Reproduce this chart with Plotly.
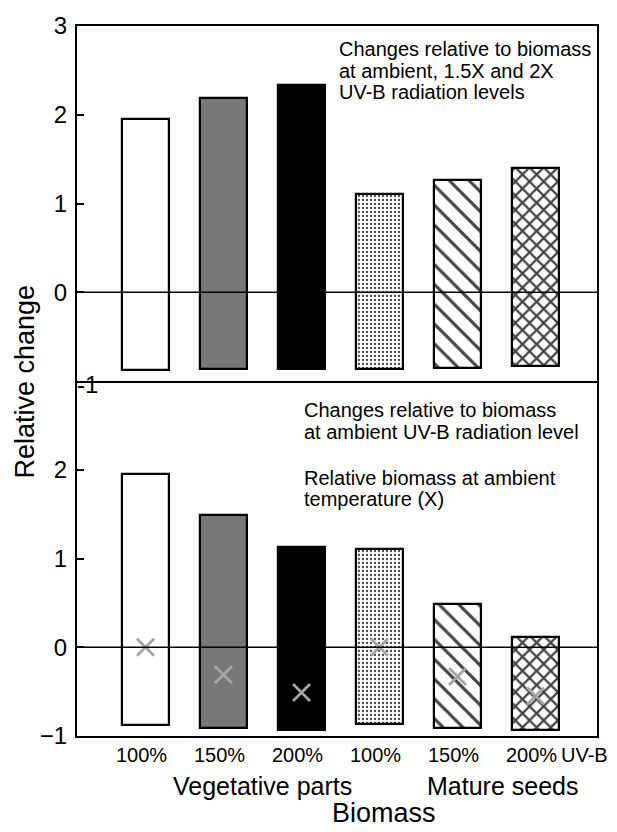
import plotly.graph_objects as go
from plotly.subplots import make_subplots

# ---- data ----
categories = ["100%", "150%", "200%", "100%", "150%", "200%"]
positions = [0, 1, 2, 3, 4, 5]
top_values = [1.95, 2.19, 2.33, 1.11, 1.27, 1.40]
top_bases = [-0.88, -0.87, -0.86, -0.865, -0.85, -0.83]
bottom_values = [1.95, 1.49, 1.13, 1.11, 0.49, 0.11]
bottom_bases = [-0.88, -0.91, -0.935, -0.87, -0.91, -0.93]
ambient_temp = [0.0, -0.31, -0.51, 0.0, -0.33, -0.55]
top_yticks = [0, 1, 2, 3]
bottom_yticks = [-1, 0, 1, 2]

FONT = "Liberation Sans, Arial, sans-serif"
fill_colors = ["white", "#777777", "black", "white", "white", "white"]
pat_shapes = ["", "", "", ".", "\\", "x"]
pat_fg = ["black", "black", "black", "#6a6a6a", "black", "black"]
pat_bg = ["white", "#777777", "black", "white", "white", "white"]
pat_size = [8, 8, 8, 4, 14, 10]
pat_sol = [0.3, 0.3, 0.3, 0.25, 0.22, 0.4]

fig = make_subplots(rows=2, cols=1, shared_xaxes=True, vertical_spacing=0)


def bar_trace(vals, bases):
    heights = [v - b for v, b in zip(vals, bases)]
    return go.Bar(
        x=positions, y=heights, base=bases, width=0.6,
        marker=dict(color=fill_colors, line=dict(color="black", width=2.2),
                    pattern=dict(shape=pat_shapes, fgcolor=pat_fg, bgcolor=pat_bg,
                                 size=pat_size, solidity=pat_sol, fgopacity=1)),
        showlegend=False, hoverinfo="skip")


fig.add_trace(bar_trace(top_values, top_bases), row=1, col=1)
fig.add_trace(bar_trace(bottom_values, bottom_bases), row=2, col=1)
fig.add_trace(go.Scatter(x=positions, y=ambient_temp, mode="markers",
                         marker=dict(symbol="x-thin", size=17,
                                     line=dict(width=2.8, color="#a5a5a5")),
                         showlegend=False, hoverinfo="skip"), row=2, col=1)

axis_common = dict(showline=True, linecolor="black", linewidth=2,
                   showgrid=False, zeroline=False)
fig.update_xaxes(range=[-0.878, 5.788], ticks="", **axis_common)
fig.update_xaxes(showticklabels=False, mirror=True, row=1, col=1)
fig.update_xaxes(mirror=False, tickvals=positions, ticktext=categories, ticklabelshift=-4,
                 tickfont=dict(family=FONT, size=20, color="black"), row=2, col=1)
fig.update_yaxes(range=[-1, 3], ticks="inside", ticklen=7, tickwidth=1.5, tickcolor="black",
                 mirror=True, ticklabelstandoff=3,
                 tickfont=dict(family=FONT, size=24, color="black"), **axis_common)
fig.update_yaxes(tickvals=top_yticks, row=1, col=1)
fig.update_yaxes(tickvals=bottom_yticks, ticktext=["\u22121", "0", "1", "2"], row=2, col=1)

for yr in ["y", "y2"]:
    fig.add_shape(type="line", xref="x domain" if yr == "y" else "x2 domain", yref=yr,
                  x0=0, x1=1, y0=0, y1=0, line=dict(color="black", width=1.5), layer="above")

W, H = 617, 832
L, R, T, B = 77, 20, 19, 96
PW, PH = W - L - R, H - T - B


def px(x):
    return (x - L) / PW


def py(y):
    return (H - B - y) / PH


ann = []


def text(t, x, y, size=20, xanchor="left", angle=0):
    ann.append(dict(text=t, x=px(x), y=py(y), xref="paper", yref="paper",
                    xanchor=xanchor, yanchor="middle", showarrow=False, textangle=angle,
                    font=dict(family=FONT, size=size, color="black")))


text("Changes relative to biomass", 337, 42)
text("at ambient, 1.5X and 2X", 337, 64)
text("UV-B radiation levels", 337, 86)
text("Changes relative to biomass", 302, 407)
text("at ambient UV-B radiation level", 302, 429)
text("Relative biomass at ambient", 302, 475)
text("temperature (X)", 302, 497)
text("-1", 75, 381, size=24)
text("UV-B", 559, 755)
text("Vegetative parts", 262, 786, size=25, xanchor="center")
text("Mature seeds", 502, 786, size=25, xanchor="center")
text("Biomass", 384, 814, size=27, xanchor="center")
text("Relative change", 25, 378, size=27, xanchor="center", angle=-90)

fig.update_layout(width=W, height=H, margin=dict(l=L, r=R, t=T, b=B),
                  paper_bgcolor="white", plot_bgcolor="white", annotations=ann,
                  bargap=0, font=dict(family=FONT, color="black"))
fig.write_html("out.html")
